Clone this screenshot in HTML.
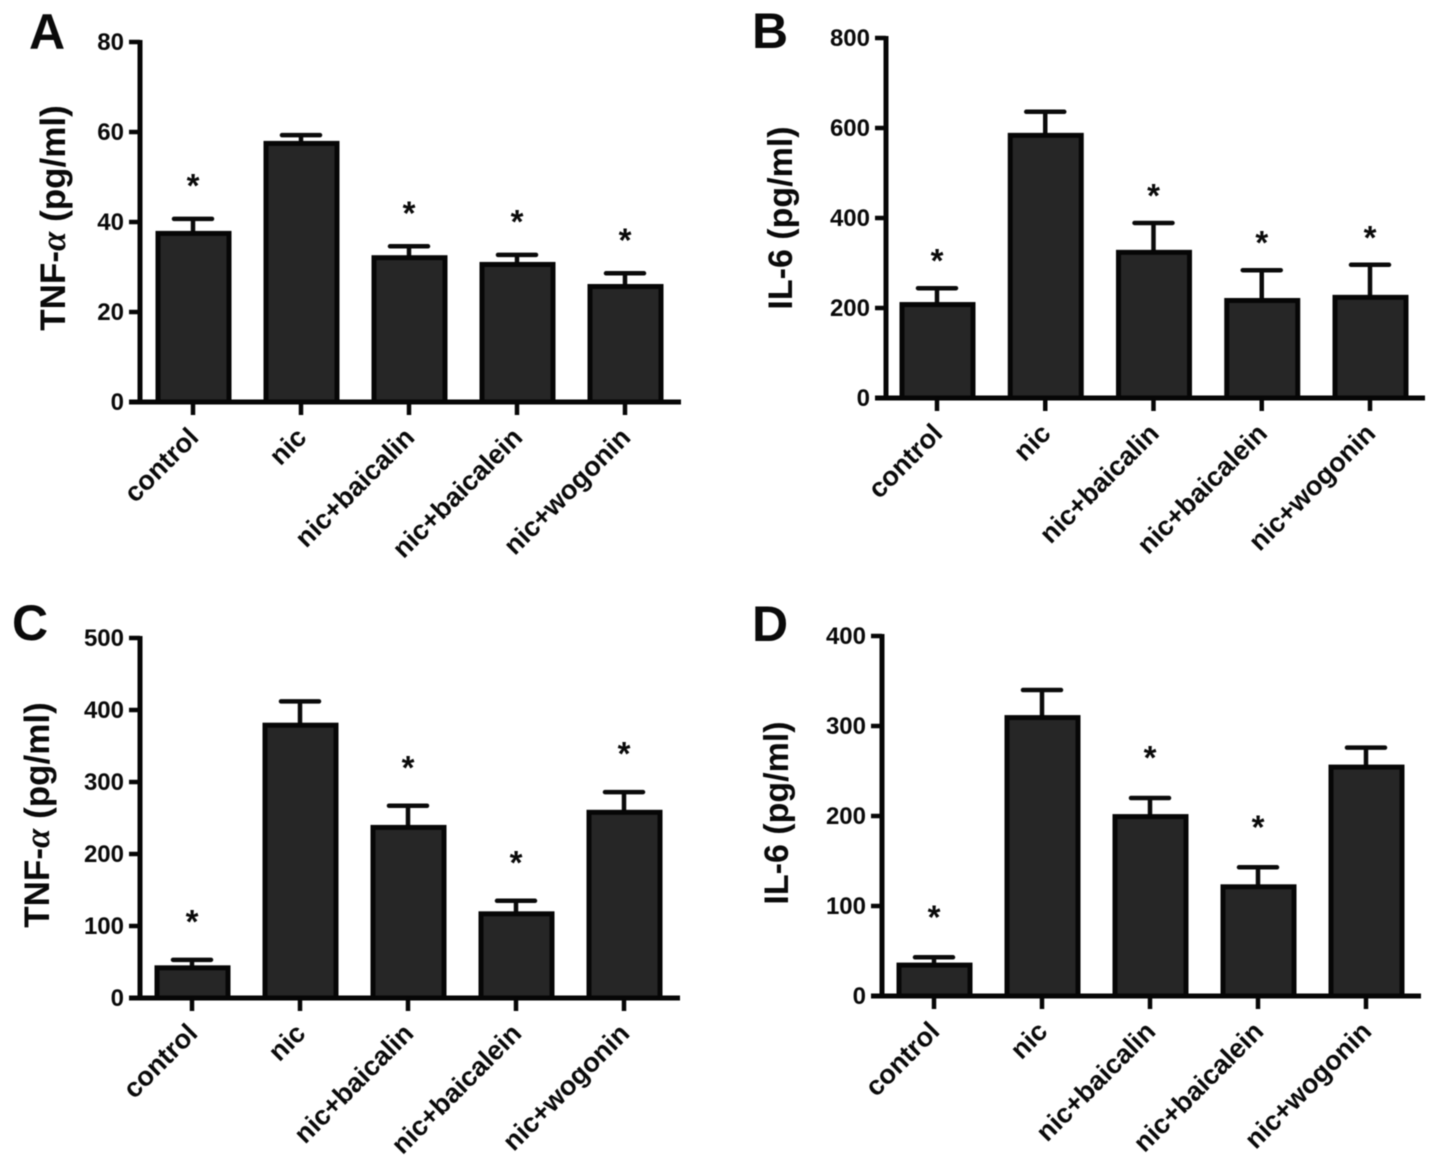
<!DOCTYPE html>
<html lang="en">
<head>
<meta charset="utf-8">
<title>Cytokine levels, panels A to D</title>
<style>
html,body{margin:0;padding:0;background:#fff;width:1441px;height:1168px;overflow:hidden}
svg{display:block;filter:blur(0.55px)}
text{font-family:"Liberation Sans",sans-serif;font-weight:bold;fill:#0a0a0a}
.tick{font-size:24px}
.cat{font-size:27px}
.ytitle{font-size:35px;text-anchor:middle}
.ytitle-il{font-size:34px}
.letter{font-size:50px}
.star{font-size:33px;text-anchor:middle}
.greek{font-family:"Liberation Serif",serif;font-style:italic}
</style>
</head>
<body>
<svg id="figure" xmlns="http://www.w3.org/2000/svg" width="1441" height="1168" viewBox="0 0 1441 1168">
  <text class="letter" x="29" y="49">A</text>
  <text class="letter" x="752" y="48">B</text>
  <text class="letter" x="12" y="640">C</text>
  <text class="letter" x="752" y="641">D</text>
  <text class="ytitle" transform="translate(65,218) rotate(-90)">TNF-<tspan class="greek">α</tspan> (pg/ml)</text>
  <text class="ytitle ytitle-il" transform="translate(792,218) rotate(-90)">IL-6 (pg/ml)</text>
  <text class="ytitle" transform="translate(49,815) rotate(-90)">TNF-<tspan class="greek">α</tspan> (pg/ml)</text>
  <text class="ytitle ytitle-il" transform="translate(788,813) rotate(-90)">IL-6 (pg/ml)</text>
</svg>
<script>
const categories = ['control', 'nic', 'nic+baicalin', 'nic+baicalein', 'nic+wogonin'];

const panelATicks = [0, 20, 40, 60, 80];
const panelAValues = [37.8, 57.8, 32.4, 30.9, 26];
const panelAErrors = [2.9, 1.5, 2.2, 1.8, 2.6];
const panelAStars = [true, false, true, true, true];

const panelBTicks = [0, 200, 400, 600, 800];
const panelBValues = [211, 587, 327, 220, 227];
const panelBErrors = [33, 49, 62, 64, 69];
const panelBStars = [true, false, true, true, true];

const panelCTicks = [0, 100, 200, 300, 400, 500];
const panelCValues = [44, 381, 239, 119, 260];
const panelCErrors = [9, 31, 28, 16, 26];
const panelCStars = [true, false, true, true, true];

const panelDTicks = [0, 100, 200, 300, 400];
const panelDValues = [36, 311, 201, 123, 256];
const panelDErrors = [7, 29, 19, 20, 20];
const panelDStars = [true, false, true, true, false];

const SVG_NS = 'http://www.w3.org/2000/svg';
const figure = document.getElementById('figure');

function make(parent, tag, attrs, content) {
  const node = document.createElementNS(SVG_NS, tag);
  for (const key in attrs) node.setAttribute(key, attrs[key]);
  if (content !== undefined) node.textContent = content;
  parent.appendChild(node);
  return node;
}

function yScale(layout, value, maxTick) {
  return layout.bottom - (value / maxTick) * (layout.bottom - layout.top);
}

function xScale(layout, index) {
  return layout.firstCenter + layout.step * index;
}

function drawPanel(id, layout, ticks, values, errors, stars) {
  const maxTick = ticks[ticks.length - 1];
  const group = make(figure, 'g', {});
  
  

  values.forEach(function (value, i) {
    const cx = xScale(layout, i);
    const yTop = yScale(layout, value, maxTick) + 1.5;
    const yErr = yScale(layout, value + errors[i], maxTick);

    const stem = make(group, 'line', { x1: cx, x2: cx, y1: yTop, y2: yErr, stroke: '#0a0a0a', 'stroke-width': 4.5 });
    
    

    const cap = make(group, 'line', { x1: cx - 19, x2: cx + 19, y1: yErr, y2: yErr, stroke: '#0a0a0a', 'stroke-width': 4.5, 'stroke-linecap': 'round' });
    
    

    const bar = make(group, 'rect', { x: cx - 35, y: yTop, width: 71, height: layout.bottom - yTop, fill: '#262626', stroke: '#060606', 'stroke-width': 5 });
    
    

    if (stars[i]) {
      const star = make(group, 'text', { class: 'star', x: cx, y: yErr - layout.starGap + 18 }, '*');
      
      
    }

    const tickX = make(group, 'line', { x1: cx, x2: cx, y1: layout.bottom, y2: layout.bottom + 13, stroke: '#060606', 'stroke-width': 4.5 });
    
    

    const labelX = cx + 7;
    const labelY = layout.bottom + 37;
    const label = make(group, 'text', { class: 'cat', 'text-anchor': 'end', transform: 'translate(' + labelX + ',' + labelY + ') rotate(-45)' }, categories[i]);
    
    
  });

  ticks.forEach(function (tick) {
    const y = yScale(layout, tick, maxTick);
    const mark = make(group, 'line', { x1: layout.axisX - 11, x2: layout.axisX, y1: y, y2: y, stroke: '#060606', 'stroke-width': 4.5 });
    
    

    const text = make(group, 'text', { class: 'tick', 'text-anchor': 'end', x: layout.axisX - 16, y: y + 8 }, String(tick));
    
    
  });

  const yAxis = make(group, 'line', { x1: layout.axisX, x2: layout.axisX, y1: layout.top - 2, y2: layout.bottom + 2, stroke: '#060606', 'stroke-width': 5 });
  
  

  const xAxis = make(group, 'line', { x1: layout.axisX - 11, x2: layout.end, y1: layout.bottom, y2: layout.bottom, stroke: '#060606', 'stroke-width': 5 });
  
  
}

drawPanel('a', { axisX: 140, top: 42, bottom: 402, firstCenter: 193, step: 108, end: 681, starGap: 40 }, panelATicks, panelAValues, panelAErrors, panelAStars);
drawPanel('b', { axisX: 886, top: 38, bottom: 398, firstCenter: 937, step: 108.25, end: 1425, starGap: 34 }, panelBTicks, panelBValues, panelBErrors, panelBStars);
drawPanel('c', { axisX: 140, top: 638, bottom: 998, firstCenter: 192, step: 108, end: 680, starGap: 45 }, panelCTicks, panelCValues, panelCErrors, panelCStars);
drawPanel('d', { axisX: 882, top: 636, bottom: 996, firstCenter: 934, step: 108, end: 1421, starGap: 47 }, panelDTicks, panelDValues, panelDErrors, panelDStars);
</script>
</body>
</html>
